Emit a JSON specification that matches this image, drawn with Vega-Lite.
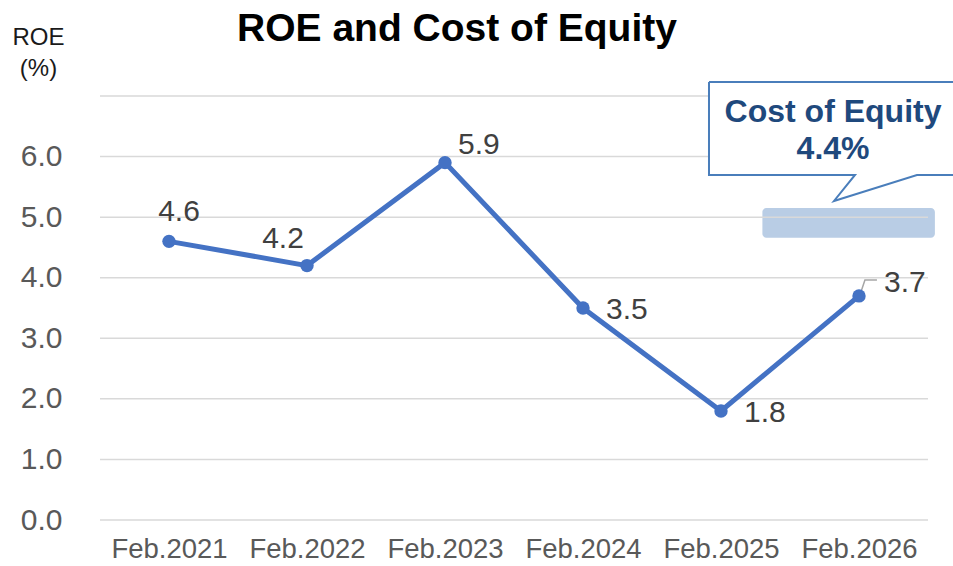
{
  "$schema": "https://vega.github.io/schema/vega-lite/v6.json",
  "autosize": "none",
  "width": 828,
  "height": 424,
  "padding": {"left": 100, "top": 96, "right": 25, "bottom": 46},
  "background": "white",
  "config": {"view": {"stroke": null}, "font": "Liberation Sans"},
  "title": {
    "text": "ROE and Cost of Equity",
    "font": "Liberation Sans",
    "fontSize": 39,
    "fontWeight": "bold",
    "color": "#000000",
    "anchor": "middle",
    "frame": "group",
    "baseline": "alphabetic",
    "dx": -57,
    "dy": 55,
    "offset": 0
  },
  "datasets": {
    "roe": [
      {"period": "Feb.2021", "idx": 0, "roe": 4.6},
      {"period": "Feb.2022", "idx": 1, "roe": 4.2},
      {"period": "Feb.2023", "idx": 2, "roe": 5.9},
      {"period": "Feb.2024", "idx": 3, "roe": 3.5},
      {"period": "Feb.2025", "idx": 4, "roe": 1.8},
      {"period": "Feb.2026", "idx": 5, "roe": 3.7}
    ],
    "grid": [{"v": 0}, {"v": 1}, {"v": 2}, {"v": 3}, {"v": 4}, {"v": 5}, {"v": 6}, {"v": 7}],
    "band": [{"x": 4.3, "x2": 5.55, "y": 4.66, "y2": 5.15}],
    "callout": [
      {"o": 0, "x": 3.913, "y": 7.231},
      {"o": 1, "x": 5.739, "y": 7.231},
      {"o": 2, "x": 5.739, "y": 5.696},
      {"o": 3, "x": 5.42, "y": 5.696},
      {"o": 4, "x": 4.819, "y": 5.267},
      {"o": 5, "x": 4.971, "y": 5.696},
      {"o": 6, "x": 3.913, "y": 5.696},
      {"o": 7, "x": 3.913, "y": 7.231}
    ],
    "calloutText": [
      {"x": 4.812, "y": 6.571, "label": "Cost of Equity"},
      {"x": 4.812, "y": 5.96, "label": "4.4%"}
    ],
    "leader": [
      {"o": 0, "x": 5.014, "y": 3.764},
      {"o": 1, "x": 5.043, "y": 3.962},
      {"o": 2, "x": 5.13, "y": 3.962}
    ]
  },
  "layer": [
    {
      "data": {"name": "band"},
      "mark": {"type": "rect", "color": "#b9cde5", "cornerRadius": 4},
      "encoding": {
        "x": {"field": "x", "type": "quantitative", "scale": {"domain": [-0.5, 5.5], "nice": false, "zero": false},
          "axis": {"values": [0, 1, 2, 3, 4, 5], "labelExpr": "'Feb.' + (2021 + datum.value)", "title": null, "grid": false, "domain": false, "ticks": false, "tickSize": 0, "labelFontSize": 27.5, "labelColor": "#595959", "labelFont": "Liberation Sans", "labelBaseline": "alphabetic", "labelPadding": 37}},
        "x2": {"field": "x2"},
        "y": {"field": "y", "type": "quantitative", "scale": {"domain": [0, 7], "nice": false},
          "axis": {"values": [0, 1, 2, 3, 4, 5, 6], "format": ".1f", "grid": false, "domain": false, "ticks": false, "tickSize": 0, "labelFontSize": 30, "labelColor": "#595959", "labelFont": "Liberation Sans", "labelPadding": 38,
            "title": ["ROE", "(%)"], "titleAngle": 0, "titleX": -62, "titleY": -52, "titleAlign": "center", "titleBaseline": "alphabetic", "titleFontSize": 24, "titleFontWeight": "normal", "titleColor": "#1a1a1a", "titleFont": "Liberation Sans", "titleLineHeight": 31}},
        "y2": {"field": "y2"}
      }
    },
    {
      "data": {"name": "grid"},
      "mark": {"type": "rule", "color": "#d9d9d9", "strokeWidth": 1.5},
      "encoding": {"y": {"field": "v", "type": "quantitative"}}
    },
    {
      "data": {"name": "callout"},
      "mark": {"type": "line", "fill": "white", "stroke": "#4a7ebb", "strokeWidth": 2, "strokeJoin": "miter"},
      "encoding": {
        "x": {"field": "x", "type": "quantitative"},
        "y": {"field": "y", "type": "quantitative"},
        "order": {"field": "o"}
      }
    },
    {
      "data": {"name": "calloutText"},
      "mark": {"type": "text", "font": "Liberation Sans", "fontSize": 32, "fontWeight": "bold", "color": "#1f497d", "align": "center", "baseline": "alphabetic"},
      "encoding": {
        "x": {"field": "x", "type": "quantitative"},
        "y": {"field": "y", "type": "quantitative"},
        "text": {"field": "label"}
      }
    },
    {
      "data": {"name": "leader"},
      "mark": {"type": "line", "color": "#a6a6a6", "strokeWidth": 1.5},
      "encoding": {
        "x": {"field": "x", "type": "quantitative"},
        "y": {"field": "y", "type": "quantitative"},
        "order": {"field": "o"}
      }
    },
    {
      "data": {"name": "roe"},
      "mark": {"type": "line", "color": "#4472c4", "strokeWidth": 5, "point": {"filled": true, "size": 180, "color": "#4472c4"}},
      "encoding": {
        "x": {"field": "idx", "type": "quantitative"},
        "y": {"field": "roe", "type": "quantitative"}
      }
    },
    {
      "data": {"name": "roe"},
      "transform": [{"filter": "datum.period === 'Feb.2021'"}],
      "mark": {"type": "text", "fontSize": 30, "color": "#404040", "align": "center", "baseline": "alphabetic", "dx": 10, "dy": -20},
      "encoding": {"x": {"field": "idx", "type": "quantitative"}, "y": {"field": "roe", "type": "quantitative"}, "text": {"field": "roe", "format": ".1f"}}
    },
    {
      "data": {"name": "roe"},
      "transform": [{"filter": "datum.period === 'Feb.2022'"}],
      "mark": {"type": "text", "fontSize": 30, "color": "#404040", "align": "center", "baseline": "alphabetic", "dx": -24, "dy": -18},
      "encoding": {"x": {"field": "idx", "type": "quantitative"}, "y": {"field": "roe", "type": "quantitative"}, "text": {"field": "roe", "format": ".1f"}}
    },
    {
      "data": {"name": "roe"},
      "transform": [{"filter": "datum.period === 'Feb.2023'"}],
      "mark": {"type": "text", "fontSize": 30, "color": "#404040", "align": "left", "baseline": "alphabetic", "dx": 13, "dy": -9},
      "encoding": {"x": {"field": "idx", "type": "quantitative"}, "y": {"field": "roe", "type": "quantitative"}, "text": {"field": "roe", "format": ".1f"}}
    },
    {
      "data": {"name": "roe"},
      "transform": [{"filter": "datum.period === 'Feb.2024' || datum.period === 'Feb.2025'"}],
      "mark": {"type": "text", "fontSize": 30, "color": "#404040", "align": "left", "baseline": "alphabetic", "dx": 23, "dy": 11},
      "encoding": {"x": {"field": "idx", "type": "quantitative"}, "y": {"field": "roe", "type": "quantitative"}, "text": {"field": "roe", "format": ".1f"}}
    },
    {
      "data": {"name": "roe"},
      "transform": [{"filter": "datum.period === 'Feb.2026'"}],
      "mark": {"type": "text", "fontSize": 30, "color": "#404040", "align": "left", "baseline": "alphabetic", "dx": 25, "dy": -4},
      "encoding": {"x": {"field": "idx", "type": "quantitative"}, "y": {"field": "roe", "type": "quantitative"}, "text": {"field": "roe", "format": ".1f"}}
    }
  ]
}
